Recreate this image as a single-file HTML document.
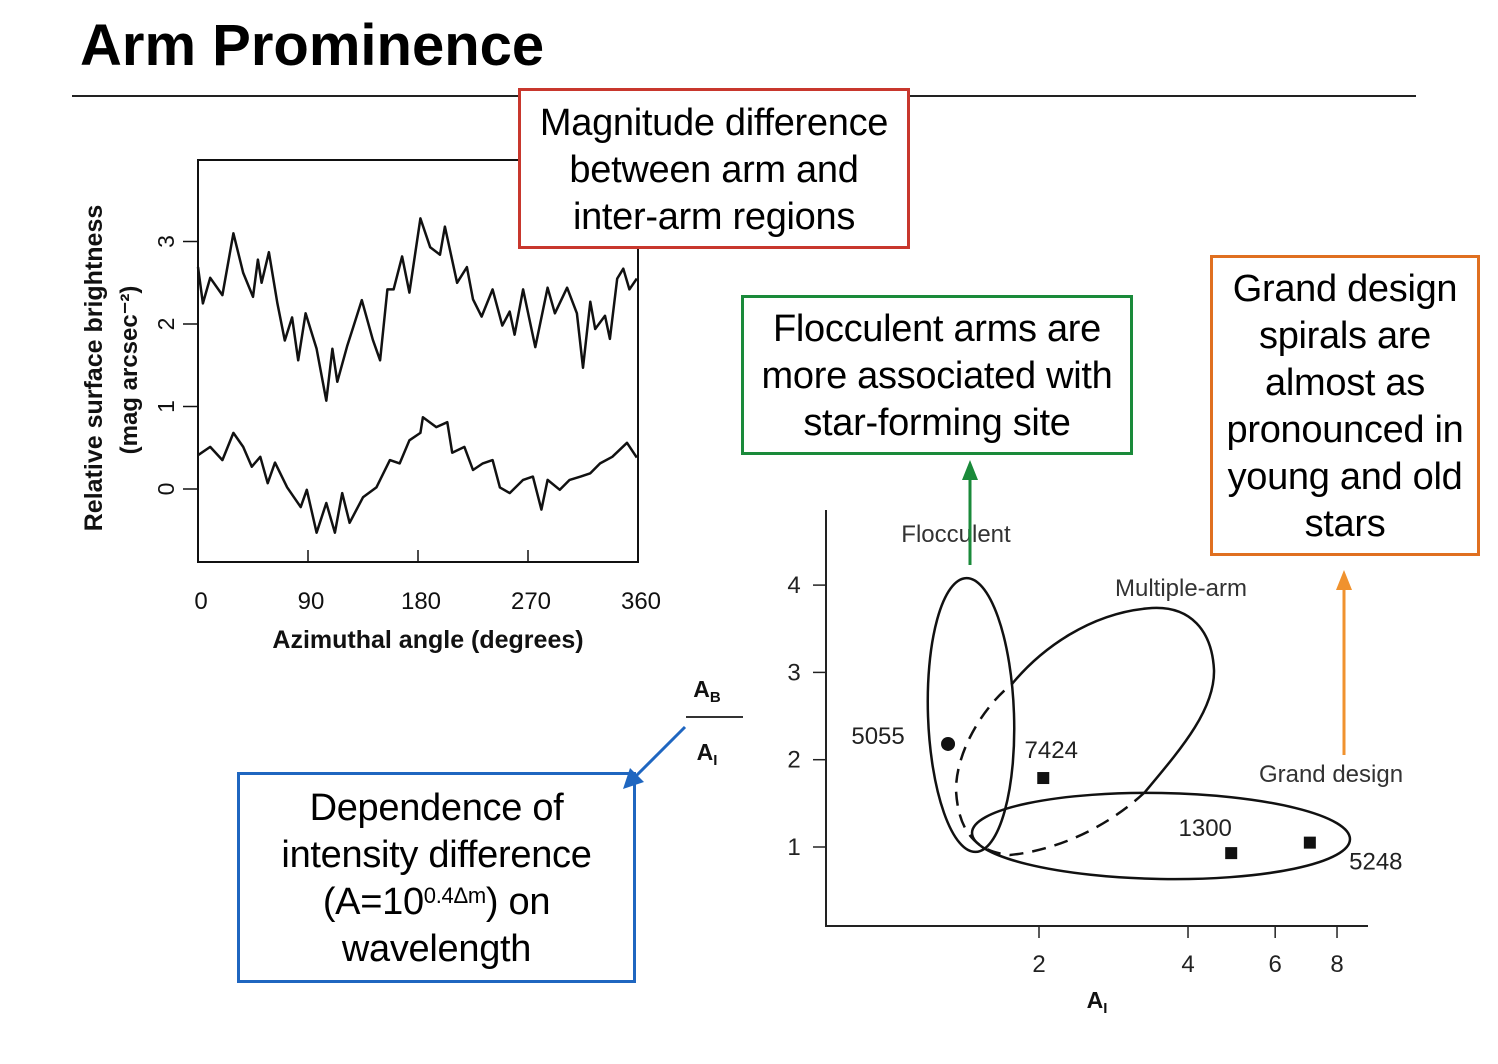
<!DOCTYPE html>
<html><head><meta charset="utf-8">
<style>
html,body{margin:0;padding:0;background:#fff;}
body{width:1498px;height:1064px;position:relative;overflow:hidden;font-family:"Liberation Sans",Arial,sans-serif;}
.box{position:absolute;box-sizing:border-box;border:3px solid;text-align:center;font-size:38px;line-height:47px;color:#000;letter-spacing:-0.3px;}
</style></head>
<body>
<div style="position:absolute;left:80px;top:12px;font-size:58px;font-weight:bold;">Arm Prominence</div>
<div style="position:absolute;left:72px;top:95px;width:1344px;height:2px;background:#222;"></div>

<svg width="1498" height="1064" style="position:absolute;left:0;top:0;" font-family="Liberation Sans, Arial, sans-serif">
  <g id="left"></g>
  <g id="right"></g>
  <g>
    <line x1="970" y1="565" x2="970" y2="478" stroke="#1a8a3a" stroke-width="3"/>
    <polygon points="970,460 962,480 978,480" fill="#1a8a3a"/>
    <line x1="1344" y1="755" x2="1344" y2="588" stroke="#f0922e" stroke-width="3"/>
    <polygon points="1344,570 1336,590 1352,590" fill="#f0922e"/>
    <line x1="685" y1="727" x2="636" y2="776" stroke="#1f66c0" stroke-width="3"/>
    <polygon points="623,789 630,768 644,782" fill="#1f66c0"/>
  </g>
</svg>

<div class="box" style="left:518px;top:88px;width:392px;height:161px;border-color:#c8372d;padding-top:9px;background:#fff;">Magnitude difference<br>between arm and<br>inter-arm regions</div>
<div class="box" style="left:741px;top:295px;width:392px;height:160px;border-color:#1a8a3a;padding-top:8px;">Flocculent arms are<br>more associated with<br>star-forming site</div>
<div class="box" style="left:1210px;top:255px;width:270px;height:301px;border-color:#e07020;padding-top:8px;">Grand design<br>spirals are<br>almost as<br>pronounced in<br>young and old<br>stars</div>
<div class="box" style="left:237px;top:772px;width:399px;height:211px;border-color:#1f66c0;padding-top:10px;">Dependence of<br>intensity difference<br>(A=10<sup style="font-size:22px;vertical-align:11px;line-height:0">0.4Δm</sup>) on<br>wavelength</div>

<script>
// ---- left chart data ----
const xTicks=[0,90,180,270,360];
const yTicks=[0,1,2,3];
const upperAngle=[0,4,10,20,29,37,45,49,52,58,65,71,77,82,88,97,105,110,114,122,127,134,143,149,155,160,167,173,182,190,198,202,212,220,225,232,241,249,255,259,266,276,286,292,302,310,315,321,325,333,337,343,348,353,359];
const upperMag=[2.69,2.25,2.56,2.35,3.10,2.62,2.33,2.78,2.50,2.87,2.25,1.80,2.08,1.56,2.13,1.70,1.07,1.70,1.30,1.73,1.96,2.29,1.81,1.56,2.42,2.42,2.82,2.38,3.28,2.93,2.84,3.18,2.50,2.69,2.30,2.09,2.42,1.98,2.15,1.87,2.42,1.72,2.44,2.13,2.44,2.13,1.47,2.27,1.94,2.10,1.82,2.55,2.67,2.42,2.55];
const lowerAngle=[0,10,20,29,37,44,51,57,63,73,84,89,97,105,112,118,124,135,146,157,165,173,182,184,195,204,208,218,225,233,241,247,255,266,274,281,286,296,304,313,321,329,339,351,359];
const lowerMag=[0.41,0.51,0.35,0.68,0.51,0.27,0.39,0.07,0.32,0.02,-0.22,-0.01,-0.53,-0.17,-0.53,-0.05,-0.41,-0.10,0.02,0.35,0.31,0.59,0.68,0.87,0.75,0.81,0.44,0.51,0.23,0.31,0.35,0.02,-0.05,0.11,0.15,-0.25,0.11,-0.01,0.11,0.15,0.19,0.31,0.39,0.56,0.38];
// ---- right chart data ----
const rxTicks=[2,4,6,8];
const ryTicks=[1,2,3,4];
const galaxyNames=['5055','7424','1300','5248'];
const galaxyAI=[1.31,2.04,4.89,7.05];
const galaxyRatio=[2.18,1.79,0.93,1.05];
const galaxyMarker=['circle','square','square','square'];

const NS='http://www.w3.org/2000/svg';
function mk(p,tag,attrs,text){const e=document.createElementNS(NS,tag);for(const k in attrs)e.setAttribute(k,attrs[k]);if(text!==undefined)e.textContent=text;p.appendChild(e);return e;}

// left axes
const L=document.getElementById('left');
const lx=a=>198+a/360*440;
const ly=m=>489-m*82.5;
let f=mk(L,'rect',{x:198,y:160,width:440,height:402,fill:'none',stroke:'#111','stroke-width':2});


xTicks.forEach(t=>{
  const tk=mk(L,'line',{x1:lx(t),y1:562,x2:lx(t),y2:550,stroke:'#111','stroke-width':1.5});
  
  
  const tl=mk(L,'text',{x:lx(t)+3,y:609,'font-size':24,'text-anchor':'middle',fill:'#111'},String(t));
  
  
});
yTicks.forEach(t=>{
  const tk=mk(L,'line',{x1:183,y1:ly(t),x2:198,y2:ly(t),stroke:'#111','stroke-width':1.5});
  
  
  const tl=mk(L,'text',{x:0,y:0,'font-size':23,'text-anchor':'middle',fill:'#111',transform:`translate(174,${ly(t)}) rotate(-90)`},String(t));
  
  
});
let t1=mk(L,'text',{x:0,y:0,'font-size':25,'font-weight':'bold','text-anchor':'middle',fill:'#111',transform:'translate(102,368) rotate(-90)'},'Relative surface brightness');


let t2=mk(L,'text',{x:0,y:0,'font-size':24,'font-weight':'bold','text-anchor':'middle',fill:'#111',transform:'translate(137,370) rotate(-90)'},'(mag arcsec⁻²)');


let t3=mk(L,'text',{x:428,y:648,'font-size':25,'font-weight':'bold','text-anchor':'middle',fill:'#111'},'Azimuthal angle (degrees)');


function curve(A,M,name){
  const d=A.map((a,i)=>(i?'L':'M')+lx(a).toFixed(1)+','+ly(M[i]).toFixed(1)).join(' ');
  const p=mk(L,'path',{d:d,fill:'none',stroke:'#111','stroke-width':2.5,'stroke-linejoin':'round'});
  
  
}
curve(upperAngle,upperMag,'upper-profile-line');
curve(lowerAngle,lowerMag,'lower-profile-line');

// right axes
const R=document.getElementById('right');
const rx=v=>1039+(Math.log10(v)-Math.log10(2))*495;
const ry=v=>847-(v-1)*87.3;
let ax=mk(R,'path',{d:'M826,510 L826,926 L1368,926',fill:'none',stroke:'#222','stroke-width':2});


rxTicks.forEach(t=>{
  const tk=mk(R,'line',{x1:rx(t),y1:926,x2:rx(t),y2:938,stroke:'#222','stroke-width':1.5});
  
  
  const tl=mk(R,'text',{x:rx(t),y:972,'font-size':24,'text-anchor':'middle',fill:'#222'},String(t));
  
  
});
ryTicks.forEach(t=>{
  const tk=mk(R,'line',{x1:813,y1:ry(t),x2:826,y2:ry(t),stroke:'#222','stroke-width':1.5});
  
  
  const tl=mk(R,'text',{x:794,y:ry(t)+8,'font-size':24,'text-anchor':'middle',fill:'#222'},String(t));
  
  
});
// grouping outlines (annotations)
let e1=mk(R,'ellipse',{cx:971,cy:715,rx:43,ry:137,fill:'none',stroke:'#111','stroke-width':2.5,transform:'rotate(-2 971 715)'});


let e2=mk(R,'ellipse',{cx:1161,cy:836,rx:189,ry:43,fill:'none',stroke:'#111','stroke-width':2.5,transform:'rotate(1 1161 836)'});


let m1=mk(R,'path',{d:'M1012,684 C1040,650 1090,612 1152,608 C1190,606 1212,630 1214,670 C1215,710 1180,750 1145,792',fill:'none',stroke:'#111','stroke-width':2.5});


let m2=mk(R,'path',{d:'M1145,792 C1110,825 1060,850 1010,855 C975,852 958,830 956,790 C956,750 985,705 1012,684',fill:'none',stroke:'#111','stroke-width':2.5,'stroke-dasharray':'14,9'});


const groupLabels=[['Flocculent',956,542],['Multiple-arm',1181,596],['Grand design',1331,782]];
groupLabels.forEach(g=>{
  const tl=mk(R,'text',{x:g[1],y:g[2],'font-size':24,'text-anchor':'middle',fill:'#333'},g[0]);
  
  
});
const nameOffsets=[[-70,0],[8,-20],[-26,-17],[66,27]];
galaxyNames.forEach((n,i)=>{
  const x=rx(galaxyAI[i]),y=ry(galaxyRatio[i]);
  let m;
  if(galaxyMarker[i]==='circle') m=mk(R,'circle',{cx:x,cy:y,r:7,fill:'#111'});
  else m=mk(R,'rect',{x:x-6,y:y-6,width:12,height:12,fill:'#111'});
  
  
  const tl=mk(R,'text',{x:x+nameOffsets[i][0],y:y+nameOffsets[i][1],'font-size':24,'text-anchor':'middle',fill:'#222'},n);
  
  
});
let xt=mk(R,'text',{x:1097,y:1008,'font-size':23,'font-weight':'bold','text-anchor':'middle',fill:'#111'},'A');


mk(xt,'tspan',{'font-size':15,dy:5},'I');
let yn=mk(R,'text',{x:707,y:697,'font-size':23,'font-weight':'bold','text-anchor':'middle',fill:'#111'},'A');


mk(yn,'tspan',{'font-size':15,dy:5},'B');
let yl=mk(R,'line',{x1:686,y1:717,x2:743,y2:717,stroke:'#333','stroke-width':2});


let yd=mk(R,'text',{x:707,y:760,'font-size':23,'font-weight':'bold','text-anchor':'middle',fill:'#111'},'A');


mk(yd,'tspan',{'font-size':15,dy:5},'I');
</script>
</body></html>
